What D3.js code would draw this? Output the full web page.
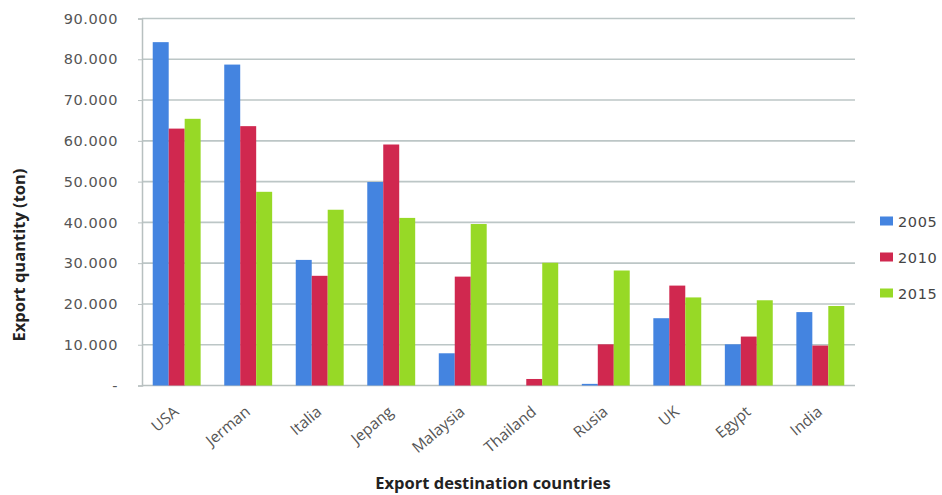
<!DOCTYPE html>
<html>
<head>
<meta charset="utf-8">
<script src="https://cdn.jsdelivr.net/npm/d3@7/dist/d3.min.js"></script>
<style>
  body { margin: 0; background: #fff; }
  svg { display: block; }
  .tick text { font-family: "DejaVu Sans", sans-serif; fill: #555; }
</style>
</head>
<body>
<svg id="chart" width="942" height="495"></svg>
<script>
const countries = ["USA", "Jerman", "Italia", "Jepang", "Malaysia", "Thailand", "Rusia", "UK", "Egypt", "India"];
const years = ["2005", "2010", "2015"];
const values2005 = [84200, 78700, 30800, 49900, 7900, 0, 400, 16500, 10100, 18000];
const values2010 = [63000, 63600, 26900, 59100, 26700, 1600, 10100, 24500, 12000, 9800];
const values2015 = [65400, 47500, 43100, 41100, 39600, 30100, 28200, 21600, 20900, 19500];
const yTicks = [0, 10000, 20000, 30000, 40000, 50000, 60000, 70000, 80000, 90000];
const colors = ["#4484e0", "#d0284f", "#97d926"];

const series = [values2005, values2010, values2015];
const svg = d3.select("#chart");
const plotLeft = 142, plotRight = 855, plotTop = 18.5, plotBottom = 385.5;

const x = d3.scaleBand().domain(countries).range([plotLeft, plotRight]).paddingInner(0.33).paddingOuter(0.15);
const xs = d3.scaleBand().domain(years).range([0, x.bandwidth()]);
const y = d3.scaleLinear().domain([0, 90000]).range([plotBottom, plotTop]);

// thousands with a dot, zero as a dash
const fmt = v => v === 0 ? "-" : d3.format(",")(v).replace(/,/g, ".");

// gridlines
svg.append("g")
  .selectAll("line")
  .data(yTicks.filter(d => d > 0))
  .join("line")
  .attr("x1", plotLeft).attr("x2", plotRight)
  .attr("y1", d => y(d)).attr("y2", d => y(d))
  .attr("stroke", "#bcc6c6").attr("stroke-width", 1.6);

// y axis
const yAxis = svg.append("g")
  .attr("transform", `translate(${plotLeft},0)`)
  .call(d3.axisLeft(y).tickValues(yTicks).tickFormat(fmt).tickSize(4).tickPadding(20));
yAxis.select(".domain").attr("stroke", "#b8c0c0").attr("stroke-width", 1.5);
yAxis.selectAll(".tick line").attr("stroke", "#b8c0c0");
yAxis.selectAll(".tick text").attr("font-size", 14.5).attr("letter-spacing", 0.6);

// x baseline
svg.append("line")
  .attr("x1", plotLeft).attr("x2", plotRight)
  .attr("y1", plotBottom).attr("y2", plotBottom)
  .attr("stroke", "#b8c0c0").attr("stroke-width", 1.6);

// bars
const groups = svg.append("g")
  .selectAll("g")
  .data(countries)
  .join("g")
  .attr("transform", d => `translate(${x(d)},0)`);

groups.selectAll("rect")
  .data((d, i) => years.map((yr, j) => ({ yr, v: series[j][i], c: colors[j] })))
  .join("rect")
  .attr("x", d => xs(d.yr))
  .attr("width", xs.bandwidth())
  .attr("y", d => y(d.v))
  .attr("height", d => plotBottom - y(d.v))
  .attr("fill", d => d.c);

// x labels
svg.append("g")
  .selectAll("text")
  .data(countries)
  .join("text")
  .attr("transform", d => `translate(${x(d) + x.bandwidth() / 2 + 3},${plotBottom + 28}) rotate(-40)`)
  .attr("text-anchor", "end")
  .attr("font-family", "'Open Sans', sans-serif")
  .attr("font-size", 15.5)
  .attr("fill", "#555")
  .text(d => d);

// axis titles
svg.append("text")
  .attr("transform", "translate(25,255) rotate(-90)")
  .attr("text-anchor", "middle")
  .attr("font-family", "'Open Sans', sans-serif")
  .attr("font-weight", "bold")
  .attr("font-size", 16.5)
  .attr("fill", "#222")
  .text("Export quantity (ton)");

svg.append("text")
  .attr("x", 493).attr("y", 489)
  .attr("text-anchor", "middle")
  .attr("font-family", "'Open Sans', sans-serif")
  .attr("font-weight", "bold")
  .attr("font-size", 16.5)
  .attr("fill", "#222")
  .text("Export destination countries");

// legend
const legend = svg.append("g")
  .selectAll("g")
  .data(years)
  .join("g")
  .attr("transform", (d, i) => `translate(880,${221 + i * 36})`);
legend.append("rect")
  .attr("x", 0).attr("y", -4.5).attr("width", 13).attr("height", 9)
  .attr("fill", (d, i) => colors[i]);
legend.append("text")
  .attr("x", 18).attr("y", 5.5)
  .attr("font-family", "'DejaVu Sans', sans-serif")
  .attr("font-size", 14.5)
  .attr("letter-spacing", 0.6)
  .attr("fill", "#444")
  .text(d => d);
</script>
</body>
</html>
